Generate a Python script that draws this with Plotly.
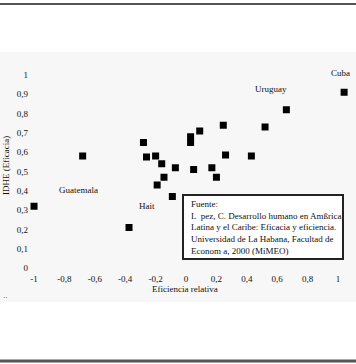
import plotly.graph_objects as go

# Data
eficiencia = [-1.0, -0.68, -0.375, -0.28, -0.26, -0.2, -0.16, -0.145, -0.19, -0.09, -0.07,
              0.03, 0.03, 0.09, 0.05, 0.17, 0.2, 0.245, 0.26, 0.43, 0.52, 0.66, 1.04]
idhe = [0.32, 0.58, 0.21, 0.65, 0.575, 0.58, 0.54, 0.47, 0.43, 0.37, 0.52,
        0.68, 0.65, 0.71, 0.51, 0.52, 0.47, 0.74, 0.585, 0.58, 0.73, 0.82, 0.91]

x_tickvals = [-1, -0.8, -0.6, -0.4, -0.2, 0, 0.2, 0.4, 0.6, 0.8, 1]
x_ticktext = ["-1", "-0,8", "-0,6", "-0,4", "-0,2", "0", "0,2", "0,4", "0,6", "0,8", "1"]
y_tickvals = [0, 0.1, 0.2, 0.3, 0.4, 0.5, 0.6, 0.7, 0.8, 0.9, 1]
y_ticktext = ["0", "0,1", "0,2", "0,3", "0,4", "0,5", "0,6", "0,7", "0,8", "0,9", "1"]

country_names = ["Cuba", "Uruguay", "Guatemala", "Hait"]
country_label_x = [1.013, 0.56, -0.71, -0.257]
country_label_y = [1.01, 0.93, 0.404, 0.32]

source_lines = [
    "Fuente:",
    "L  pez, C. Desarrollo humano en Amßrica",
    "Latina y el Caribe: Eficacia y eficiencia.",
    "Universidad de La Habana, Facultad de",
    "Econom a, 2000 (MiMEO)",
]

W, H = 356, 364
FONT = "Liberation Serif"
TXT = "#111111"

fig = go.Figure()
fig.add_trace(go.Scatter(
    x=eficiencia, y=idhe, mode="markers",
    marker=dict(symbol="square", size=7, color="black", line=dict(width=0)),
    hoverinfo="x+y", showlegend=False,
))

annotations = []
for name, lx, ly in zip(country_names, country_label_x, country_label_y):
    annotations.append(dict(x=lx, y=ly, xref="x", yref="y", text=name, showarrow=False,
                            xanchor="center", font=dict(family=FONT, size=9, color=TXT)))

annotations.append(dict(
    x=189 / W, y=1 - 197 / H, xref="paper", yref="paper", xanchor="left", yanchor="top",
    text="<br>".join(source_lines), align="left", showarrow=False,
    font=dict(family=FONT, size=9, color=TXT),
))
annotations.append(dict(x=185 / W, y=1 - 296 / H, xref="paper", yref="paper",
                        text="Eficiencia relativa", showarrow=False, xanchor="center",
                        font=dict(family=FONT, size=9, color=TXT)))
annotations.append(dict(x=6 / W, y=1 - 166 / H, xref="paper", yref="paper",
                        text="IDHE (Eficacia)", textangle=-90, showarrow=False,
                        xanchor="center", yanchor="middle",
                        font=dict(family=FONT, size=9, color=TXT)))
annotations.append(dict(x=5 / W, y=1 - 302 / H, xref="paper", yref="paper",
                        text="..", showarrow=False, xanchor="center",
                        font=dict(family=FONT, size=9, color="#555")))

shapes = [
    dict(type="rect", xref="paper", yref="paper", x0=0, x1=1, y0=1 - 302 / H, y1=1 - 52 / H,
         fillcolor="#f7f7f7", line=dict(width=0), layer="below"),
    dict(type="line", xref="paper", yref="paper", x0=0, x1=1, y0=1 - 4 / H, y1=1 - 4 / H,
         line=dict(color="#555555", width=2)),
    dict(type="line", xref="paper", yref="paper", x0=0, x1=1, y0=1 - 361 / H, y1=1 - 361 / H,
         line=dict(color="#555555", width=3)),
    dict(type="rect", xref="paper", yref="paper", x0=183 / W, x1=343 / W,
         y0=1 - 259 / H, y1=1 - 195 / H, fillcolor="white",
         line=dict(color="#222222", width=2), layer="above"),
]

fig.update_layout(
    width=W, height=H,
    margin=dict(l=0, r=0, t=0, b=0),
    paper_bgcolor="white", plot_bgcolor="rgba(0,0,0,0)",
    font=dict(family=FONT, size=9, color=TXT),
    xaxis=dict(domain=[29 / W, 354 / W], range=[-1.033, 1.105],
               tickvals=x_tickvals, ticktext=x_ticktext,
               showgrid=False, zeroline=False, showline=False, ticks="",
               tickfont=dict(family=FONT, size=9, color=TXT)),
    yaxis=dict(domain=[1 - 271.86 / H, 1 - 55.7 / H], range=[-0.02, 1.1],
               tickvals=y_tickvals, ticktext=y_ticktext,
               showgrid=False, zeroline=False, showline=False, ticks="",
               tickfont=dict(family=FONT, size=9, color=TXT)),
    annotations=annotations,
    shapes=shapes,
)

fig.write_html(
    "out.html",
    config={"displayModeBar": False},
    post_script="document.body.style.margin='0';document.body.style.padding='0';"
                "document.body.style.overflow='hidden';",
)
